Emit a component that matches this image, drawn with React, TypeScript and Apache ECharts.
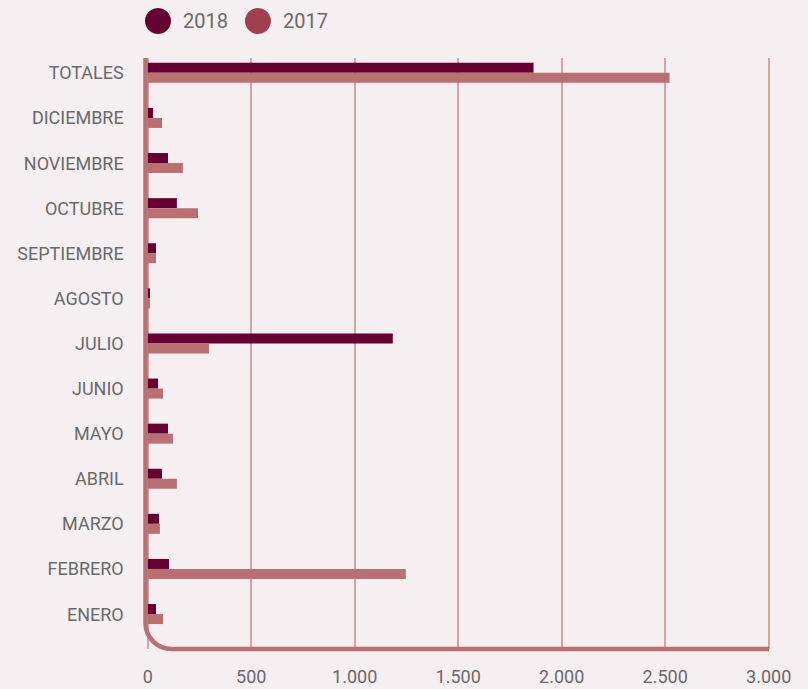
import React, { useEffect, useRef } from "react";
import * as echarts from "echarts";

const categories = [
  "TOTALES",
  "DICIEMBRE",
  "NOVIEMBRE",
  "OCTUBRE",
  "SEPTIEMBRE",
  "AGOSTO",
  "JULIO",
  "JUNIO",
  "MAYO",
  "ABRIL",
  "MARZO",
  "FEBRERO",
  "ENERO",
];
const values2018 = [1864, 26, 98, 141, 40, 11, 1184, 50, 98, 69, 55, 103, 40];
const values2017 = [2521, 69, 170, 243, 40, 11, 296, 74, 122, 141, 59, 1247, 74];
const seriesNames = ["2018", "2017"];
const xTicks = { min: 0, max: 3000, interval: 500 };

const BG = "#f5eff2";
const DARK = "#660033";
const LIGHT = "#b87072";
const LEGEND_LIGHT = "#a0404f";
const GRID_LINE = "#c68a90";
const TEXT = "#6a6a6a";

// layout
const GL = 147.7;
const GR = 39.3;
const AX_X = 145.5;
const AX_TOP = 58;
const AX_BOTTOM = 649;
const AX_RIGHT = 769;
const RADIUS = 26;
const K = 0.5523 * RADIUS;

const axisPath =
  `M ${AX_X} ${AX_TOP} L ${AX_X} ${AX_BOTTOM - RADIUS} ` +
  `C ${AX_X} ${AX_BOTTOM - RADIUS + K} ${AX_X + RADIUS - K} ${AX_BOTTOM} ${AX_X + RADIUS} ${AX_BOTTOM} ` +
  `L ${AX_RIGHT} ${AX_BOTTOM}`;

let registered = false;

const fmt = (v: number) => String(v).replace(/\B(?=(\d{3})+(?!\d))/g, ".");

export default function App() {
  const ref = useRef<HTMLDivElement>(null);
  useEffect(() => {
    if (!ref.current) return;
    if (!registered) {
      echarts.graphic.registerShape("axisCurve", echarts.graphic.extendPath(axisPath, {}));
      registered = true;
    }
    const chart = echarts.init(ref.current, null, { renderer: "svg" });
    chart.setOption({
      animation: false,
      backgroundColor: BG,
      textStyle: { fontFamily: "Roboto" },
      legend: {
        data: [
          { name: seriesNames[0], itemStyle: { color: DARK } },
          { name: seriesNames[1], itemStyle: { color: LEGEND_LIGHT } },
        ],
        icon: "circle",
        itemWidth: 26,
        itemHeight: 26,
        itemGap: 17,
        left: 145,
        top: 8,
        padding: 0,
        textStyle: { color: TEXT, fontSize: 20, padding: [0, 0, 0, 7], fontFamily: "Roboto" },
      },
      grid: [
        { left: GL, right: GR, top: 50.3, bottom: 52.4 },
        { left: GL, right: GR, top: AX_TOP, bottom: 689 - AX_BOTTOM },
      ],
      xAxis: [
        {
          type: "value",
          gridIndex: 0,
          ...xTicks,
          show: false,
        },
        {
          type: "value",
          gridIndex: 1,
          ...xTicks,
          axisLine: { show: false },
          axisTick: { show: false },
          splitLine: { show: true, lineStyle: { color: GRID_LINE, width: 1.5 } },
          axisLabel: {
            color: TEXT,
            fontSize: 18,
            margin: 18,
            fontFamily: "Roboto",
            formatter: (v: number) => fmt(v),
          },
        },
      ],
      yAxis: [
        {
          type: "category",
          gridIndex: 0,
          data: categories,
          inverse: true,
          axisLine: { show: false },
          axisTick: { show: false },
          splitLine: { show: false },
          axisLabel: {
            color: TEXT,
            fontSize: 18,
            margin: 24,
            padding: [5, 0, 0, 0],
            fontFamily: "Roboto",
          },
        },
        {
          type: "value",
          gridIndex: 1,
          show: false,
          min: 0,
          max: 1,
        },
      ],
      series: [
        {
          name: seriesNames[0],
          type: "bar",
          xAxisIndex: 0,
          yAxisIndex: 0,
          data: values2018,
          barWidth: 10,
          barGap: "0%",
          itemStyle: { color: DARK },
          z: 3,
        },
        {
          name: seriesNames[1],
          type: "bar",
          xAxisIndex: 0,
          yAxisIndex: 0,
          data: values2017,
          barWidth: 10,
          barGap: "0%",
          itemStyle: { color: LIGHT },
          z: 3,
        },
      ],
      graphic: [
        {
          type: "axisCurve",
          x: 0,
          y: 0,
          z: 10,
          silent: true,
          style: { stroke: LIGHT, lineWidth: 4.5, fill: "none" },
        },
      ],
    });
    return () => chart.dispose();
  }, []);
  return (
    <div
      ref={ref}
      style={{ position: "fixed", left: 0, top: 0, width: 808, height: 689 }}
    />
  );
}
